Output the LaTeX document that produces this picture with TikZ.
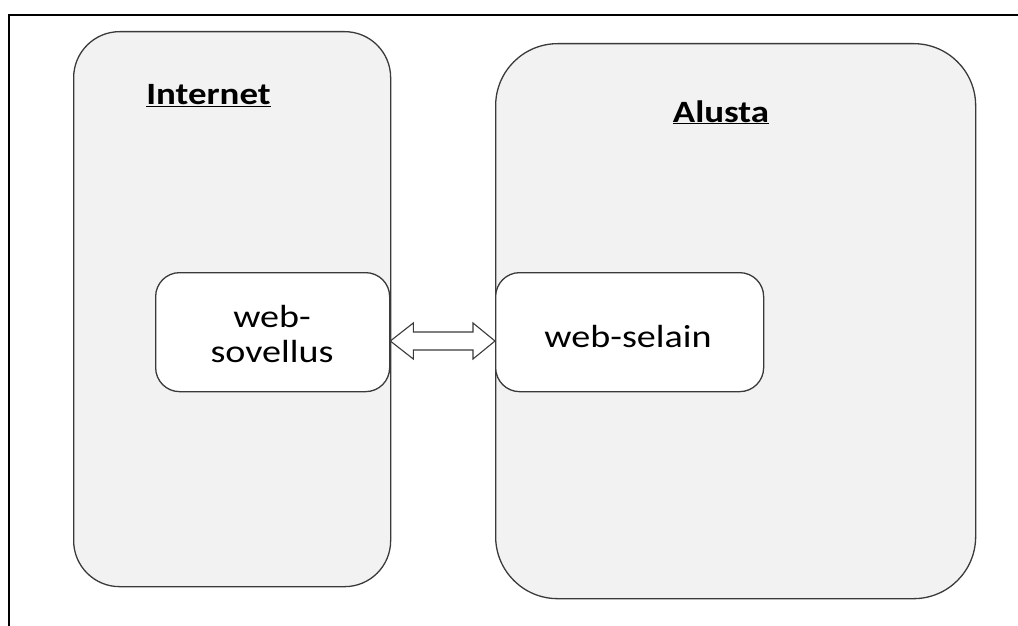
\documentclass[tikz,border=0pt]{standalone}
\usepackage{fontspec}
\setmainfont{Carlito}
\usetikzlibrary{calc}
\definecolor{boxfill}{HTML}{F2F2F2}
\definecolor{boxline}{HTML}{3A3A3A}
\newcommand{\stretchtxt}[1]{\scalebox{1.19}[1]{#1}}
\tikzset{
  bigbox/.style={draw=boxline, fill=boxfill, line width=1.3pt},
  innerbox/.style={draw=boxline, fill=white, line width=1.3pt, rounded corners=24pt},
  title/.style={font=\fontsize{31}{36}\selectfont\bfseries, inner sep=0pt, anchor=base},
  body/.style={font=\fontsize{32}{35}\selectfont, inner sep=0pt, anchor=base},
  frame/.style={draw=black, line width=1.2pt},
  dblarrow/.style={draw=boxline, fill=white, line width=1.1pt, line join=miter}
}
\begin{document}
\begin{tikzpicture}[x=1pt,y=-1pt]
\useasboundingbox (0,0) rectangle (1018,626);
% outer frame (top and left visible)
\coordinate (ftr) at (1018,15);
\coordinate (ftl) at (9,15);
\coordinate (fbl) at (9,626);
\draw[frame] (ftr) -- (ftl) -- (fbl);
% big boxes
\node[bigbox, rounded corners=46pt, minimum width=317pt, minimum height=555pt, anchor=north west] (internet) at (73,31) {};
\node[bigbox, rounded corners=62pt, minimum width=480pt, minimum height=555pt, anchor=north west] (alusta) at (495,43) {};
% titles
\node[title] (tint) at (208.5,105) {\stretchtxt{\underline{Internet}}};
\node[title] (talu) at (721,122) {\stretchtxt{\underline{Alusta}}};
% inner boxes
\node[innerbox, minimum width=234pt, minimum height=119pt, anchor=north west] (sov) at (155,272) {};
\node[body] (sov1) at (272,327) {\stretchtxt{web-}};
\node[body] (sov2) at (272,362) {\stretchtxt{sovellus}};
\node[innerbox, minimum width=268pt, minimum height=119pt, anchor=north west] (sel) at (495,272) {};
\node[body] (selt) at (628,347) {\stretchtxt{web-selain}};
% double arrow between the two inner boxes
\coordinate (al) at (sov.east |- 0,341);
\coordinate (ar) at (sel.west |- 0,341);
\draw[dblarrow] (al) -- ++(23,-18) -- ++(0,9) -- ($(ar)+(-22,-9)$) -- ++(0,-9) -- (ar)
  -- ++(-22,18) -- ++(0,-9) -- ($(al)+(23,9)$) -- ++(0,9) -- cycle;
\end{tikzpicture}
\end{document}
